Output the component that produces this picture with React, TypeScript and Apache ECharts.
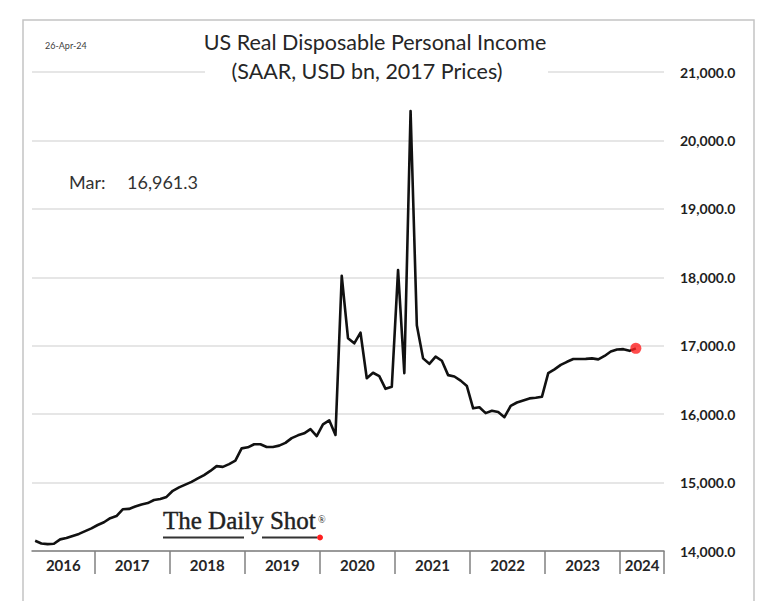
import React, { useEffect, useRef } from "react";
import * as echarts from "echarts";

// ---- data ----
const yearLabels = ["2016", "2017", "2018", "2019", "2020", "2021", "2022", "2023", "2024"];
const axisStartMonth = 3; // March 2016
const axisEndMonth = 7; // July 2024 (axis runs past last observation)
const lastObsLabel = "Mar:";
// US real disposable personal income, SAAR, USD bn, 2017 prices; Mar 2016 .. Mar 2024
const incomeValues = [
  14150, 14110, 14100, 14105, 14170, 14190, 14220, 14250, 14290, 14330,
  14380, 14420, 14480, 14510, 14610, 14615, 14650, 14680, 14700, 14745, 14760, 14790,
  14880, 14930, 14970, 15010, 15060, 15110, 15170, 15240, 15230, 15270, 15320, 15500,
  15515, 15560, 15560, 15520, 15520, 15540, 15580, 15650, 15690, 15720, 15780, 15680,
  15850, 15910, 15695, 18020, 17110, 17035, 17190, 16525, 16605, 16555, 16370, 16400,
  18105, 16600, 20430, 17300, 16815, 16735, 16840, 16780, 16570, 16550, 16490, 16410,
  16085, 16100, 16015, 16050, 16030, 15955, 16120, 16170, 16200, 16230, 16240, 16255,
  16600, 16655, 16720, 16765, 16805, 16805, 16808, 16815, 16800, 16850, 16915, 16945,
  16950, 16925, 16961.3,
];
const yTicks = [14000, 15000, 16000, 17000, 18000, 19000, 20000, 21000];

// categories (one per month)
const categories: string[] = [];
const categoryYear: string[] = [];
yearLabels.forEach((y, yi) => {
  const from = yi === 0 ? axisStartMonth : 1;
  const to = yi === yearLabels.length - 1 ? axisEndMonth : 12;
  for (let m = from; m <= to; m++) {
    categories.push(`${y}-${String(m).padStart(2, "0")}`);
    categoryYear.push(y);
  }
});

// label index per year: centre of each year's segment
const labelAt: Record<number, string> = {};
yearLabels.forEach((y) => {
  const s = categoryYear.indexOf(y);
  const e = categoryYear.lastIndexOf(y);
  const c = (s + e) / 2;
  const idx = Math.floor(c);
  labelAt[idx] = c === idx ? `{n|${y}}` : `{s|${y}}`;
});

const fmt = (v: number) =>
  v.toLocaleString("en-US", { minimumFractionDigits: 1, maximumFractionDigits: 1 });

export default function App() {
  const ref = useRef<HTMLDivElement>(null);
  useEffect(() => {
    if (!ref.current) return;
    const chart = echarts.init(ref.current, null, { renderer: "svg" });
    const lastIdx = incomeValues.length - 1;
    const labelFont = "Lato, 'Open Sans', sans-serif";
    chart.setOption({
      animation: false,
      backgroundColor: "#ffffff",
      grid: { left: 32, right: 116, top: 72, bottom: 50, containLabel: false },
      xAxis: {
        type: "category",
        data: categories,
        boundaryGap: true,
        axisLine: { show: true, lineStyle: { color: "#808080", width: 1.5 } },
        axisTick: {
          show: true,
          interval: (i: number) => i > 0 && categories[i].endsWith("-01"),
          length: 23,
          lineStyle: { color: "#808080", width: 1.5 },
        },
        axisLabel: {
          show: true,
          interval: (i: number) => labelAt[i] !== undefined,
          formatter: (_v: string, i: number) => labelAt[i] || "",
          margin: 6,
          rich: {
            s: { fontFamily: labelFont, fontWeight: "bold", fontSize: 15, color: "#262626", padding: [0, 0, 0, 6.3] },
            n: { fontFamily: labelFont, fontWeight: "bold", fontSize: 15, color: "#262626" },
          },
        },
        splitLine: { show: false },
      },
      yAxis: {
        type: "value",
        position: "right",
        min: yTicks[0],
        max: yTicks[yTicks.length - 1],
        interval: 1000,
        axisLine: { show: false },
        axisTick: { show: false },
        axisLabel: {
          margin: 16,
          formatter: (v: number) => fmt(v),
          fontFamily: labelFont,
          fontWeight: "bold",
          fontSize: 14,
          color: "#1f1f1f",
        },
        splitLine: { show: true, lineStyle: { color: "#dedede", width: 1.5 } },
      },
      series: [
        {
          type: "line",
          data: incomeValues,
          showSymbol: false,
          symbol: "none",
          lineStyle: { color: "#111111", width: 2.6, join: "round" },
          z: 3,
        },
        {
          type: "scatter",
          data: [[categories[lastIdx], incomeValues[lastIdx]]],
          symbol: "circle",
          symbolSize: 11,
          itemStyle: { color: "#ff1f1f" },
          z: 4,
        },
      ],
      graphic: [
        {
          type: "rect",
          shape: { x: 23, y: 20, width: 731, height: 620 },
          style: { fill: "none", stroke: "#c4c4c4", lineWidth: 1.5 },
          z: 0,
          silent: true,
        },
        {
          type: "text",
          x: 45,
          y: 45,
          style: { text: "26-Apr-24", font: "9px Lato, sans-serif", fill: "#404040", textVerticalAlign: "middle" },
        },
        {
          type: "text",
          x: 375,
          y: 42,
          style: {
            text: "US Real Disposable Personal Income",
            font: "21.5px Lato, sans-serif",
            fill: "#262626",
            textAlign: "center",
            textVerticalAlign: "middle",
          },
          z: 10,
        },
        {
          type: "rect",
          shape: { x: 205, y: 58, width: 343, height: 26 },
          style: { fill: "#ffffff" },
          z: 9,
          silent: true,
        },
        {
          type: "text",
          x: 367,
          y: 71,
          style: {
            text: "(SAAR, USD bn, 2017 Prices)",
            font: "21.5px Lato, sans-serif",
            fill: "#262626",
            textAlign: "center",
            textVerticalAlign: "middle",
          },
          z: 10,
        },
        {
          type: "text",
          x: 69,
          y: 182,
          style: { text: lastObsLabel, font: "18px Lato, sans-serif", fill: "#333333", textVerticalAlign: "middle" },
        },
        {
          type: "text",
          x: 127,
          y: 182,
          style: { text: fmt(incomeValues[lastIdx]), font: "18px Lato, sans-serif", fill: "#333333", textVerticalAlign: "middle" },
        },
        {
          type: "text",
          x: 163,
          y: 533,
          scaleX: 1.0,
          style: {
            text: "The Daily Shot",
            font: "25px 'Liberation Serif', serif",
            fill: "#222222",
            textVerticalAlign: "bottom",
            stroke: "#222222",
            lineWidth: 0.4,
          },
          z: 10,
        },
        {
          type: "text",
          x: 318,
          y: 519,
          style: { text: "®", font: "10px 'Liberation Serif', serif", fill: "#222222", textVerticalAlign: "middle" },
          z: 10,
        },
        {
          type: "line",
          shape: { x1: 163, y1: 537.5, x2: 244, y2: 537.5 },
          style: { stroke: "#333333", lineWidth: 2 },
          z: 10,
        },
        {
          type: "line",
          shape: { x1: 262, y1: 537.5, x2: 317, y2: 537.5 },
          style: { stroke: "#333333", lineWidth: 2 },
          z: 10,
        },
        {
          type: "circle",
          shape: { cx: 320, cy: 537.5, r: 3 },
          style: { fill: "#ff1f1f" },
          z: 10,
        },
      ],
    });
    return () => chart.dispose();
  }, []);
  return <div ref={ref} style={{ position: "absolute", left: 0, top: 0, width: 780, height: 601 }} />;
}
